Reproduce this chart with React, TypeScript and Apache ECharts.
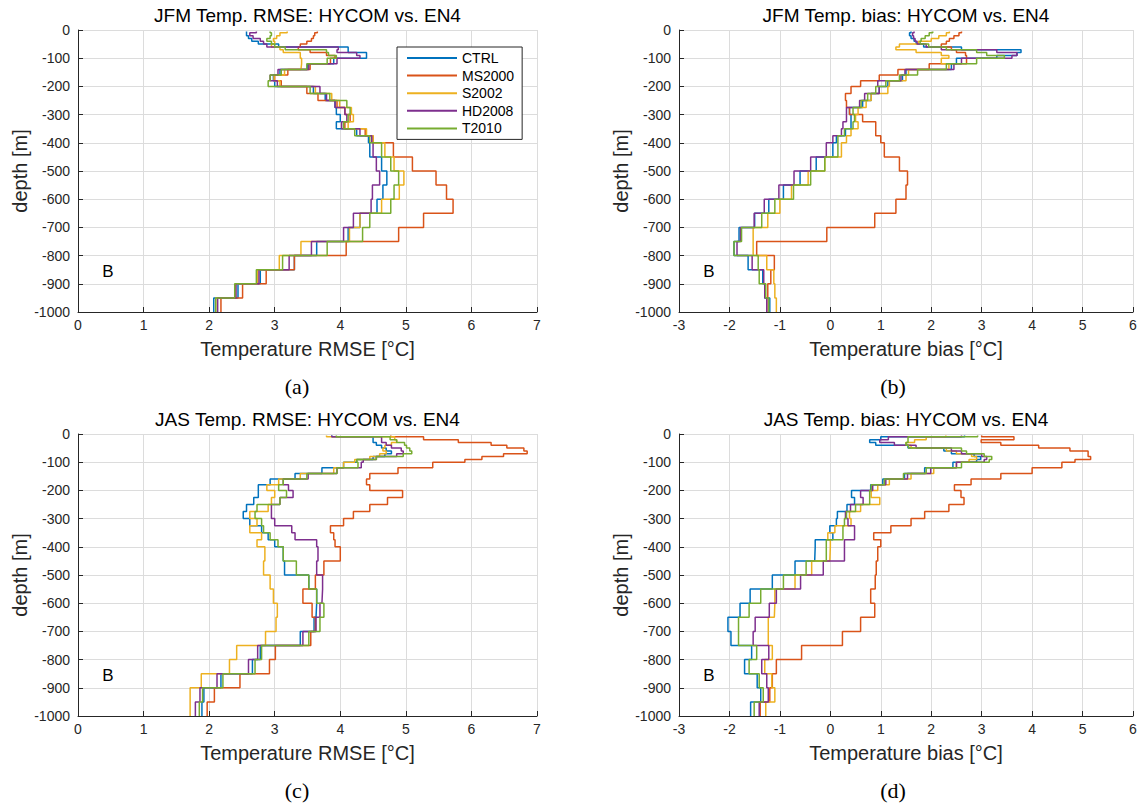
import React, { useEffect, useRef } from "react";
import * as echarts from "echarts";

// Layer edges (m, positive downward); each value below applies to one layer
const DEPTHS = [5, 10, 20, 30, 40, 50, 60, 70, 80, 90, 100, 120, 140, 160, 180, 200, 225, 250, 275, 300, 325, 350, 375, 400, 450, 500, 550, 600, 650, 700, 750, 800, 850, 900, 950, 1000];
const NAMES = ["CTRL", "MS2000", "S2002", "HD2008", "T2010"];
const COLORS = ["#0072BD", "#D95319", "#EDB120", "#7E2F8E", "#77AC30"];
const DEPTH_TICKS = [0, -100, -200, -300, -400, -500, -600, -700, -800, -900, -1000];

// (a) JFM RMSE
const A_CTRL = [2.57, 2.57, 2.6, 2.65, 2.75, 3.06, 4.12, 4.12, 4.4, 4.4, 3.9, 3.5, 3.08, 2.98, 3.0, 3.59, 3.77, 3.92, 3.94, 4.0, 3.94, 4.25, 4.43, 4.45, 4.63, 4.71, 4.65, 4.56, 4.3, 4.12, 3.64, 3.3, 2.78, 2.44, 2.07];
const A_MS2000 = [3.65, 3.61, 3.59, 3.56, 3.49, 3.39, 3.36, 3.54, 3.79, 3.92, 3.85, 3.54, 3.2, 3.0, 3.1, 3.49, 3.66, 3.95, 4.07, 4.15, 4.07, 4.38, 4.5, 4.81, 5.1, 5.46, 5.62, 5.72, 5.27, 4.89, 4.09, 3.3, 2.87, 2.51, 2.18];
const A_S2002 = [3.19, 3.08, 3.03, 2.98, 3.0, 2.95, 3.08, 3.13, 3.39, 3.39, 3.41, 3.4, 3.15, 2.99, 3.08, 3.62, 3.87, 3.99, 4.17, 4.2, 4.12, 4.4, 4.5, 4.68, 4.82, 4.97, 4.9, 4.63, 4.3, 4.14, 3.4, 3.07, 2.74, 2.4, 2.1];
const A_HD2008 = [2.72, 2.62, 2.67, 2.78, 2.83, 2.88, 3.97, 3.95, 4.25, 4.3, 3.95, 3.52, 3.05, 2.93, 3.04, 3.69, 3.79, 3.92, 4.07, 4.1, 4.02, 4.3, 4.48, 4.5, 4.55, 4.6, 4.49, 4.47, 4.2, 4.05, 3.56, 3.22, 2.76, 2.41, 2.13];
const A_T2010 = [2.93, 2.95, 2.93, 2.88, 2.95, 3.0, 3.16, 3.79, 3.82, 3.94, 3.8, 3.49, 3.1, 2.93, 2.9, 3.54, 3.84, 4.1, 4.15, 4.12, 4.05, 4.22, 4.45, 4.63, 4.77, 4.89, 4.82, 4.77, 4.45, 4.34, 3.8, 3.12, 2.72, 2.39, 2.1];

// (b) JFM bias
const B_CTRL = [1.6, 1.57, 1.6, 1.66, 1.7, 1.85, 2.6, 3.78, 3.7, 3.3, 2.5, 2.4, 1.5, 1.43, 1.14, 0.97, 0.81, 0.64, 0.38, 0.41, 0.41, 0.3, 0.12, 0.05, -0.28, -0.6, -0.93, -1.22, -1.5, -1.81, -1.91, -1.63, -1.34, -1.3, -1.2];
const B_MS2000 = [2.6, 2.55, 2.45, 2.36, 2.3, 2.2, 2.4, 2.5, 2.68, 2.7, 2.7, 1.96, 1.34, 0.97, 0.6, 0.41, 0.3, 0.32, 0.38, 0.64, 0.9, 0.9, 1.0, 1.07, 1.37, 1.53, 1.5, 1.3, 0.88, -0.07, -1.46, -1.11, -1.18, -1.24, -1.26];
const B_S2002 = [2.36, 2.3, 2.15, 2.0, 1.75, 1.37, 1.3, 1.7, 2.2, 2.35, 2.2, 2.35, 1.55, 1.5, 1.17, 1.14, 0.81, 0.71, 0.55, 0.5, 0.55, 0.41, 0.32, 0.22, -0.11, -0.44, -0.77, -1.0, -1.24, -1.53, -1.53, -1.26, -1.12, -1.1, -1.07];
const B_HD2008 = [1.66, 1.63, 1.65, 1.68, 1.72, 1.9, 2.2, 3.3, 3.7, 3.6, 2.6, 2.45, 1.48, 1.4, 0.94, 0.97, 0.68, 0.58, 0.32, 0.32, 0.25, 0.22, 0.05, -0.08, -0.39, -0.72, -1.02, -1.31, -1.51, -1.78, -1.85, -1.55, -1.32, -1.3, -1.26];
const B_T2010 = [2.03, 1.96, 1.88, 1.8, 1.78, 1.95, 2.3, 2.9, 3.1, 3.45, 2.9, 2.3, 1.73, 1.37, 1.1, 0.9, 0.74, 0.61, 0.45, 0.48, 0.45, 0.28, 0.15, 0.15, -0.11, -0.39, -0.73, -1.1, -1.36, -1.76, -1.91, -1.43, -1.41, -1.28, -1.22];

// (c) JAS RMSE
const C_CTRL = [3.87, 4.5, 4.5, 4.55, 4.63, 4.7, 4.78, 4.68, 4.5, 4.25, 4.05, 3.72, 3.31, 2.93, 2.75, 2.75, 2.68, 2.57, 2.52, 2.62, 2.8, 2.9, 3.0, 3.13, 3.15, 3.52, 3.64, 3.63, 3.6, 3.39, 2.78, 2.66, 2.18, 1.92, 1.89];
const C_MS2000 = [4.77, 5.27, 5.8, 6.3, 6.54, 6.8, 6.85, 6.49, 6.16, 5.9, 5.41, 4.88, 4.45, 4.4, 4.45, 4.95, 4.72, 4.45, 4.2, 4.05, 3.85, 3.9, 3.92, 4.0, 3.75, 3.62, 3.43, 3.57, 3.62, 3.55, 3.01, 2.92, 2.47, 2.08, 1.97];
const C_S2002 = [3.79, 4.83, 4.86, 4.78, 4.68, 4.65, 4.7, 4.6, 4.45, 4.22, 4.05, 3.9, 3.39, 3.06, 2.88, 3.0, 2.95, 2.9, 2.62, 2.73, 2.62, 2.8, 2.73, 2.85, 2.83, 2.93, 2.98, 3.04, 3.02, 2.86, 2.42, 2.31, 1.88, 1.71, 1.71];
const C_HD2008 = [3.87, 4.63, 4.63, 4.7, 4.78, 4.93, 4.96, 4.86, 4.55, 4.35, 4.32, 3.95, 3.51, 3.13, 3.21, 3.28, 3.08, 2.95, 2.95, 3.0, 3.26, 3.31, 3.64, 3.66, 3.64, 3.73, 3.72, 3.69, 3.63, 3.43, 2.74, 2.6, 2.12, 1.86, 1.79];
const C_T2010 = [3.94, 4.76, 4.86, 4.98, 5.01, 5.06, 5.09, 4.96, 4.55, 4.25, 4.27, 3.95, 3.49, 3.13, 3.06, 3.18, 3.08, 2.73, 2.7, 2.8, 2.83, 2.93, 3.05, 3.13, 3.33, 3.52, 3.64, 3.75, 3.69, 3.52, 2.8, 2.7, 2.21, 1.9, 1.85];

// (d) JAS bias
const D_CTRL = [2.66, 1.0, 0.78, 0.9, 1.54, 2.25, 2.4, 2.85, 2.98, 2.9, 2.43, 1.87, 1.47, 1.04, 0.8, 0.42, 0.48, 0.33, 0.14, 0.12, -0.01, 0.05, -0.3, -0.31, -0.7, -1.15, -1.59, -1.79, -2.03, -1.97, -1.56, -1.7, -1.45, -1.38, -1.58];
const D_MS2000 = [3.0, 3.64, 2.99, 3.38, 4.13, 4.75, 5.11, 5.11, 5.16, 4.85, 4.59, 4.0, 3.38, 2.79, 2.46, 2.59, 2.65, 2.35, 1.87, 1.6, 1.2, 0.86, 1.0, 0.94, 0.91, 0.89, 0.8, 0.88, 0.6, 0.24, -0.57, -1.07, -1.15, -1.2, -1.39];
const D_S2002 = [2.29, 1.9, 1.67, 1.5, 1.6, 2.3, 2.5, 2.8, 2.9, 2.75, 2.5, 2.05, 1.6, 1.17, 0.94, 0.81, 0.98, 0.6, 0.38, 0.41, 0.09, -0.05, 0.0, -0.01, -0.37, -0.7, -1.1, -1.11, -1.23, -1.23, -1.15, -1.3, -1.16, -1.1, -1.28];
const D_HD2008 = [2.6, 1.15, 0.98, 1.27, 1.7, 2.4, 2.6, 3.0, 3.1, 3.05, 2.5, 1.99, 1.53, 1.1, 0.84, 0.6, 0.65, 0.4, 0.3, 0.35, 0.48, 0.48, 0.28, 0.28, -0.14, -0.59, -1.07, -1.21, -1.49, -1.53, -1.22, -1.36, -1.26, -1.23, -1.41];
const D_T2010 = [2.92, 1.54, 1.54, 1.5, 1.55, 2.6, 2.7, 3.05, 3.2, 3.15, 2.6, 1.9, 1.45, 1.07, 0.81, 0.78, 0.78, 0.5, 0.32, 0.28, 0.25, 0.25, -0.08, -0.08, -0.48, -0.93, -1.38, -1.61, -1.82, -1.82, -1.46, -1.61, -1.41, -1.33, -1.51];

const TITLES = [
  "JFM Temp. RMSE: HYCOM vs. EN4",
  "JFM Temp. bias: HYCOM vs. EN4",
  "JAS Temp. RMSE: HYCOM vs. EN4",
  "JAS Temp. bias: HYCOM vs. EN4",
];
const XNAMES = ["Temperature RMSE [°C]", "Temperature bias [°C]", "Temperature RMSE [°C]", "Temperature bias [°C]"];
const CAPTIONS = ["(a)", "(b)", "(c)", "(d)"];
const PANEL_DATA = [
  [A_CTRL, A_MS2000, A_S2002, A_HD2008, A_T2010],
  [B_CTRL, B_MS2000, B_S2002, B_HD2008, B_T2010],
  [C_CTRL, C_MS2000, C_S2002, C_HD2008, C_T2010],
  [D_CTRL, D_MS2000, D_S2002, D_HD2008, D_T2010],
];
const XRANGES = [[0, 7], [-3, 6], [0, 7], [-3, 6]];

const FONT = "'Liberation Sans', Arial, sans-serif";
const INK = "#262626";

// Layout
const GRIDS = [
  { left: 78, top: 30, width: 459, height: 282 },
  { left: 679, top: 30, width: 454, height: 282 },
  { left: 78, top: 434, width: 459, height: 282 },
  { left: 679, top: 434, width: 454, height: 282 },
];

function profile(vals: number[]): number[][] {
  const pts: number[][] = [];
  vals.forEach((v, i) => {
    pts.push([v, -DEPTHS[i]]);
    pts.push([v, -DEPTHS[i + 1]]);
  });
  return pts;
}

export default function App() {
  const ref = useRef<HTMLDivElement>(null);
  useEffect(() => {
    if (!ref.current) return;
    const chart = echarts.init(ref.current, null, { renderer: "svg" });

    const xAxis = GRIDS.map((g, p) => ({
      gridIndex: p,
      type: "value",
      min: XRANGES[p][0],
      max: XRANGES[p][1],
      interval: 1,
      name: XNAMES[p],
      nameLocation: "middle",
      nameGap: 27,
      nameTextStyle: { fontSize: 20, color: INK, fontFamily: FONT },
      axisLine: { show: true, onZero: false, lineStyle: { color: INK, width: 1 } },
      axisTick: { show: true, inside: true, length: 5, lineStyle: { color: INK } },
      axisLabel: { fontSize: 14, color: INK, fontFamily: FONT, margin: 6, formatter: (v: number) => String(v) },
      splitLine: { show: true, lineStyle: { color: "#dcdcdc", width: 1 } },
    }));
    const yAxis = GRIDS.map((g, p) => ({
      gridIndex: p,
      type: "value",
      min: DEPTH_TICKS[DEPTH_TICKS.length - 1],
      max: DEPTH_TICKS[0],
      interval: 100,
      name: "depth [m]",
      nameLocation: "middle",
      nameGap: 48,
      nameRotate: 90,
      nameTextStyle: { fontSize: 20, color: INK, fontFamily: FONT },
      axisLine: { show: true, onZero: false, lineStyle: { color: INK, width: 1 } },
      axisTick: { show: true, inside: true, length: 5, lineStyle: { color: INK } },
      axisLabel: { fontSize: 14, color: INK, fontFamily: FONT, margin: 8, formatter: (v: number) => String(v) },
      splitLine: { show: true, lineStyle: { color: "#dcdcdc", width: 1 } },
    }));

    const series: any[] = [];
    PANEL_DATA.forEach((set, p) => {
      set.forEach((vals, s) => {
        series.push({
          type: "line",
          name: NAMES[s],
          xAxisIndex: p,
          yAxisIndex: p,
          data: profile(vals),
          symbol: "none",
          showSymbol: false,
          lineStyle: { width: 1.5, color: COLORS[s] },
          itemStyle: { color: COLORS[s] },
          emphasis: { disabled: true },
        });
      });
    });

    const graphics: any[] = [];
    GRIDS.forEach((g, p) => {
      const cx = g.left + g.width / 2;
      graphics.push({
        type: "text",
        x: cx,
        y: g.top - 15,
        style: { text: TITLES[p], fontSize: 19, fontFamily: FONT, fill: "#000", align: "center", verticalAlign: "middle" },
      });
      graphics.push({
        type: "text",
        x: p % 2 === 0 ? 297 : 893,
        y: g.top + 356,
        style: { text: CAPTIONS[p], fontSize: 22, fontFamily: "'Liberation Serif', 'DejaVu Serif', serif", fill: "#000", align: "center", verticalAlign: "middle" },
      });
      graphics.push({
        type: "text",
        x: g.left + 30,
        y: g.top + 241,
        style: { text: "B", fontSize: 17, fontFamily: FONT, fill: "#000", align: "center", verticalAlign: "middle" },
      });
    });

    chart.setOption({
      animation: false,
      backgroundColor: "#ffffff",
      grid: GRIDS,
      xAxis,
      yAxis,
      series,
      legend: {
        data: NAMES,
        orient: "vertical",
        left: 397,
        top: 47,
        icon: "rect",
        itemWidth: 50,
        itemHeight: 2,
        itemGap: 3.6,
        padding: [4, 8, 4, 10],
        backgroundColor: "#ffffff",
        borderColor: INK,
        borderWidth: 1,
        borderRadius: 0,
        textStyle: { fontSize: 14, color: "#000", fontFamily: FONT },
        selectedMode: false,
      },
      graphic: graphics,
    });
    return () => chart.dispose();
  }, []);
  return <div ref={ref} style={{ position: "fixed", left: 0, top: 0, width: 1141, height: 810, background: "#fff" }} />;
}
